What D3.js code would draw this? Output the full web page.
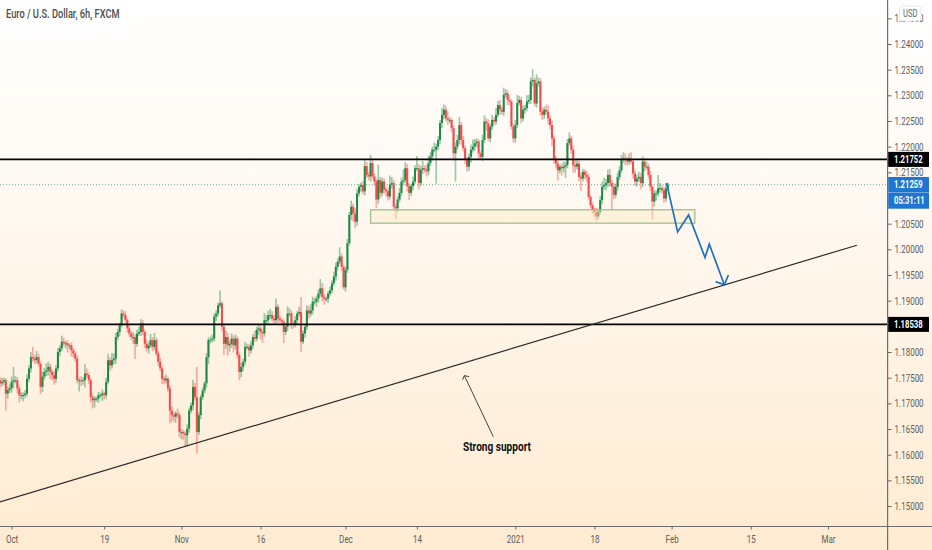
<!DOCTYPE html>
<html><head><meta charset="utf-8">
<script src="https://cdnjs.cloudflare.com/ajax/libs/d3/7.8.5/d3.min.js"></script>
<style>html,body{margin:0;padding:0;background:#fff;overflow:hidden}svg{display:block}</style>
</head><body><svg id="c" width="932" height="550"></svg>
<script>
const firstOpen = 1.1745;
const closes = [
1.1739,1.1742,1.1745,1.1719,1.1726,1.1729,1.1742,1.1745,1.1745,1.1729,
1.1716,1.1716,1.1716,1.1719,1.1748,1.1768,1.1790,1.1787,1.1784,1.1790,
1.1777,1.1732,1.1752,1.1761,1.1764,1.1771,1.1761,1.1755,1.1748,1.1768,
1.1800,1.1807,1.1820,1.1817,1.1817,1.1813,1.1813,1.1803,1.1797,1.1787,
1.1745,1.1745,1.1744,1.1745,1.1758,1.1755,1.1745,1.1712,1.1706,1.1709,
1.1709,1.1716,1.1716,1.1719,1.1716,1.1742,1.1784,1.1774,1.1784,1.1787,
1.1829,1.1839,1.1852,1.1875,1.1872,1.1862,1.1846,1.1836,1.1829,1.1829,
1.1816,1.1836,1.1839,1.1856,1.1839,1.1816,1.1807,1.1813,1.1823,1.1810,
1.1823,1.1797,1.1781,1.1768,1.1748,1.1745,1.1748,1.1729,1.1686,1.1677,
1.1674,1.1680,1.1677,1.1644,1.1644,1.1641,1.1638,1.1651,1.1686,1.1696,
1.1732,1.1712,1.1644,1.1677,1.1712,1.1725,1.1739,1.1790,1.1823,1.1824,
1.1826,1.1869,1.1875,1.1891,1.1895,1.1849,1.1816,1.1829,1.1813,1.1816,
1.1826,1.1813,1.1826,1.1794,1.1761,1.1771,1.1781,1.1810,1.1810,1.1803,
1.1813,1.1829,1.1826,1.1843,1.1846,1.1839,1.1836,1.1862,1.1862,1.1872,
1.1872,1.1865,1.1862,1.1888,1.1865,1.1862,1.1859,1.1839,1.1849,1.1875,
1.1875,1.1855,1.1854,1.1862,1.1875,1.1878,1.1820,1.1836,1.1849,1.1881,
1.1875,1.1881,1.1898,1.1898,1.1904,1.1914,1.1924,1.1907,1.1904,1.1904,
1.1914,1.1920,1.1934,1.1947,1.1966,1.1976,1.1986,1.1966,1.1926,1.1960,
1.2012,1.2067,1.2083,1.2070,1.2054,1.2109,1.2122,1.2125,1.2113,1.2162,
1.2145,1.2142,1.2168,1.2142,1.2132,1.2097,1.2135,1.2110,1.2132,1.2116,
1.2113,1.2103,1.2126,1.2129,1.2083,1.2080,1.2097,1.2110,1.2132,1.2135,
1.2158,1.2123,1.2110,1.2123,1.2132,1.2158,1.2158,1.2129,1.2155,1.2158,
1.2155,1.2152,1.2168,1.2181,1.2194,1.2194,1.2200,1.2213,1.2246,1.2262,
1.2272,1.2255,1.2252,1.2252,1.2236,1.2187,1.2200,1.2213,1.2242,1.2213,
1.2197,1.2174,1.2161,1.2180,1.2194,1.2200,1.2207,1.2210,1.2187,1.2180,
1.2213,1.2249,1.2245,1.2216,1.2239,1.2252,1.2249,1.2262,1.2281,1.2272,
1.2268,1.2301,1.2304,1.2291,1.2288,1.2239,1.2216,1.2242,1.2285,1.2291,
1.2255,1.2272,1.2275,1.2288,1.2291,1.2327,1.2330,1.2284,1.2323,1.2327,
1.2268,1.2262,1.2272,1.2268,1.2255,1.2242,1.2216,1.2177,1.2167,1.2154,
1.2161,1.2158,1.2161,1.2164,1.2207,1.2216,1.2194,1.2164,1.2161,1.2167,
1.2141,1.2138,1.2151,1.2145,1.2141,1.2102,1.2086,1.2077,1.2073,1.2064,
1.2073,1.2096,1.2122,1.2125,1.2129,1.2145,1.2129,1.2122,1.2106,1.2122,
1.2141,1.2154,1.2174,1.2177,1.2174,1.2171,1.2177,1.2171,1.2148,1.2132,
1.2138,1.2141,1.2129,1.2171,1.2161,1.2161,1.2145,1.2122,1.2093,1.2109,
1.2109,1.2119,1.2119,1.2115,1.2099,1.2119,1.2126];
const wickUpPips = [
6,8,5,4,6,8,10,26,8,6, 4,6,5,7,8,6,10,20,8,12, 6,5,10,8,14,10,6,5,8,6, 8,6,12,8,5,6,4,6,5,4,
6,5,8,6,18,10,5,4,6,5, 4,6,5,8,4,8,12,6,14,10, 8,6,5,8,6,8,4,6,5,10, 6,8,10,8,6,5,8,6,12,6,
14,5,6,8,4,5,8,4,6,8, 6,4,10,5,6,4,5,8,6,6, 14,8,59,6,5,6,4,8,5,6, 8,6,6,5,25,4,6,12,8,6,
10,6,8,4,5,8,6,10,6,5, 8,6,12,6,8,6,5,14,10,8, 12,8,6,16,5,6,4,5,6,14, 10,6,6,8,5,10,29,6,6,10,
8,12,10,8,6,8,18,10,6,4, 5,8,6,10,8,6,18,6,4,6, 8,6,12,6,10,8,6,5,8,12, 8,6,16,8,6,5,30,6,8,6,
5,6,18,12,6,5,6,10,8,20, 12,8,6,5,10,6,24,8,8,14, 6,10,14,8,6,14,6,8,6,14, 10,8,14,6,4,6,8,10,16,6,
8,5,6,6,10,14,8,6,5,4, 10,12,6,8,6,10,6,14,8,10, 6,14,8,6,10,4,6,10,16,8, 6,8,6,12,10,8,21,4,18,8,
6,8,6,10,12,6,8,6,5,8, 4,6,10,6,8,12,6,8,10,8, 6,8,6,5,8,6,4,6,4,8, 6,8,10,14,8,10,12,6,8,6,
8,8,10,12,10,6,10,12,6,6, 8,10,8,10,6,10,6,8,4,6, 6,26,10,6,6,10,4];
const wickDownPips = [
8,6,6,33,10,6,8,12,6,10, 14,8,12,6,5,6,8,6,8,6, 5,14,10,6,8,10,14,10,12,8, 6,8,5,6,10,14,8,12,8,6,
6,22,10,8,14,6,8,10,16,14, 6,8,5,12,8,6,5,10,6,8, 10,6,8,4,6,5,8,6,6,14, 29,6,5,8,6,8,6,10,5,8,
6,5,8,6,10,8,6,6,25,14, 8,12,6,10,14,12,22,20,8,6, 10,6,42,6,8,5,6,8,14,6, 5,6,8,6,5,8,22,10,20,12,
8,14,8,6,16,10,8,6,5,12, 6,8,6,5,10,14,18,6,8,6, 8,6,10,6,8,5,8,22,6,8, 6,10,8,6,8,6,20,5,8,6,
10,6,8,6,10,8,6,8,12,6, 8,6,6,5,8,6,5,8,4,8, 6,5,10,16,13,8,6,10,6,8, 6,8,10,6,8,17,8,10,6,8,
10,8,6,8,6,21,8,5,6,8, 6,10,14,6,8,5,6,12,6,8, 6,10,8,6,8,5,66,6,8,10, 8,6,10,6,8,14,55,6,8,10,
6,8,10,8,12,6,8,8,10,6, 8,6,14,5,8,6,8,6,5,10, 6,8,6,10,8,6,8,8,6,5, 10,6,8,6,5,8,10,6,8,6,
8,10,8,6,12,8,14,10,8,20, 6,14,8,22,6,5,8,14,12,6, 8,24,6,8,10,5,6,8,10,9, 6,5,8,6,10,8,6,45,8,6,
8,6,5,6,10,8,6,5,10,8, 10,6,12,8,10,6,8,8,35,10, 14,6,8,6,8,6,5];
const priceTicks = [1.245,1.24,1.235,1.23,1.225,1.22,1.215,1.205,1.2,1.195,1.19,1.18,1.175,1.17,1.165,1.16,1.155,1.15];
const timeTickBars = [6,54,94,135,179,216,267,308,348,389,429];
const timeTickLabels = ["Oct","19","Nov","16","Dec","14","2021","18","Feb","15","Mar"];
const levels = [1.21752,1.18538];
const lastPrice = 1.21259;
const countdown = "05:31:11";
const zoneBars = [192,360];
const zonePrices = [1.2077,1.2051];
const trendBars = [0,444];
const trendPrices = [1.1508,1.2008];
const forecastBars = [345.4,351.1,356.8,365.3,367.5,375.3];
const forecastPrices = [1.2129,1.2034,1.2067,1.1984,1.2010,1.1931];
const forecastHeadBars = [370.8,375.3,377.4];
const forecastHeadPrices = [1.1937,1.1931,1.1950];
const noteBars = [255.6,240.6];
const notePrices = [1.1635,1.1754];
const noteHeadBars = [239.7,240.6,243];
const noteHeadPrices = [1.1746,1.1754,1.1752];

const W=932,H=550,axisX=887.6,axisY=526.5;
const x=d3.scaleLinear().domain([0,460]).range([0,887.8]);
const y=d3.scaleLinear().domain([1.15,1.24]).range([506,44]);
const svg=d3.select("#c");
const grad=svg.append("defs").append("linearGradient").attr("id","bg").attr("x1",0).attr("x2",0).attr("y1",0).attr("y2",1);
grad.append("stop").attr("offset","0").attr("stop-color","#ffffff");
grad.append("stop").attr("offset","0.45").attr("stop-color","#fff7ee");
grad.append("stop").attr("offset","1").attr("stop-color","#ffebd1");
svg.append("rect").attr("width",W).attr("height",H).attr("fill","url(#bg)");

const FONT="'Roboto',sans-serif";
// The reference's text is horizontally condensed: keep real text, narrowed to the measured width.
const squeeze=(sel,k)=>sel.each(function(){const w=this.getComputedTextLength();
  d3.select(this).attr("textLength",(w*k).toFixed(1)).attr("lengthAdjust","spacingAndGlyphs");});
const bars=closes.map((c,i)=>{const o=i?closes[i-1]:firstOpen;
  return {i,o,c,h:Math.max(o,c)+wickUpPips[i]/1e4,l:Math.min(o,c)-wickDownPips[i]/1e4};});
const GREEN="#188a42",RED="#f4484a";
const plot=svg.append("g");
plot.append("line").attr("x1",0).attr("x2",axisX).attr("y1",y(lastPrice)).attr("y2",y(lastPrice))
 .attr("stroke","#4f9e6c").attr("stroke-width",1).attr("stroke-dasharray","1 2").attr("opacity",.8);
plot.append("g").selectAll("line").data(bars).join("line")
 .attr("x1",d=>x(d.i)).attr("x2",d=>x(d.i)).attr("y1",d=>y(d.h)).attr("y2",d=>y(d.l))
 .attr("stroke",d=>d.c>=d.o?GREEN:RED).attr("stroke-width",1.7).attr("opacity",.42);
plot.append("g").selectAll("rect").data(bars).join("rect")
 .attr("x",d=>x(d.i)-1).attr("width",2)
 .attr("y",d=>y(Math.max(d.o,d.c))).attr("height",d=>Math.max(1,Math.abs(y(d.o)-y(d.c))))
 .attr("fill",d=>d.c>=d.o?GREEN:RED);
plot.append("rect").attr("x",x(zoneBars[0])).attr("width",x(zoneBars[1])-x(zoneBars[0]))
 .attr("y",y(zonePrices[0])).attr("height",y(zonePrices[1])-y(zonePrices[0]))
 .attr("fill","#ffe9bf").attr("fill-opacity",.4).attr("stroke","#9dbf8e").attr("stroke-width",1.3);
plot.selectAll(".lv").data(levels).join("line").attr("class","lv").attr("x1",0).attr("x2",axisX)
 .attr("y1",d=>y(d)).attr("y2",d=>y(d)).attr("stroke","#000").attr("stroke-width",1.8);
const ln=d3.line().x(d=>x(d[0])).y(d=>y(d[1]));
const path=(bs,ps,col,w)=>plot.append("path").attr("d",ln(bs.map((b,i)=>[b,ps[i]]))).attr("fill","none")
 .attr("stroke",col).attr("stroke-width",w).attr("stroke-linejoin","miter");
path(trendBars,trendPrices,"#2b2b2b",1.2);
path(forecastBars,forecastPrices,"#1c71c4",1.7);
path(forecastHeadBars,forecastHeadPrices,"#1c71c4",1.7);
path(noteBars,notePrices,"#444",1);
path(noteHeadBars,noteHeadPrices,"#444",1);
svg.append("text").attr("x",497).attr("y",451).attr("text-anchor","middle")
 .attr("font-family",FONT).attr("font-weight",700).attr("font-size",12).attr("fill","#111")
 .text("Strong support").call(squeeze,.84);
svg.append("text").attr("x",6).attr("y",18).attr("font-family",FONT).attr("font-weight",500).attr("font-size",13)
 .attr("fill","#4d4d4d").text("Euro / U.S. Dollar, 6h, FXCM").call(squeeze,.71);

const gy=svg.append("g").attr("transform",`translate(${axisX},0)`)
 .call(d3.axisRight(y).tickValues(priceTicks).tickFormat(d3.format(".5f")).tickSize(4).tickPadding(3));
gy.select(".domain").remove();
const gx=svg.append("g").attr("transform",`translate(0,${axisY})`)
 .call(d3.axisBottom(x).tickValues(timeTickBars).tickFormat((d,i)=>timeTickLabels[i]).tickSize(3).tickPadding(6));
gx.select(".domain").remove();
svg.selectAll(".tick text").attr("font-family",FONT).attr("font-size",10.5).attr("fill","#5c5c5c").call(squeeze,.76);
svg.selectAll(".tick line").attr("stroke","#666");
svg.append("line").attr("x1",axisX).attr("x2",axisX).attr("y1",0).attr("y2",H).attr("stroke","#6e6e6e").attr("stroke-width",1.2);
svg.append("line").attr("x1",0).attr("x2",W).attr("y1",axisY).attr("y2",axisY).attr("stroke","#6e6e6e").attr("stroke-width",1.2);

const tag=(cy,h,fill,txt)=>{svg.append("rect").attr("x",axisX+.6).attr("y",cy-h/2).attr("width",929-axisX-.6).attr("height",h).attr("fill",fill);
 svg.append("text").attr("x",894).attr("y",cy+3.7).attr("font-family",FONT).attr("font-size",10.5).attr("font-weight",700).attr("fill","#fff").text(txt).call(squeeze,.73);};
levels.forEach(v=>tag(y(v),15,"#000",d3.format(".5f")(v)));
tag(y(lastPrice),15.5,"#1e76d2",d3.format(".5f")(lastPrice));
tag(y(lastPrice)+16,16,"#1e76d2",countdown);
svg.append("rect").attr("x",899.5).attr("y",6).attr("width",21.5).attr("height",15).attr("rx",3)
 .attr("fill","#fff").attr("stroke","#e6e6e6");
svg.append("text").attr("x",910.2).attr("y",17).attr("text-anchor","middle").attr("font-family",FONT)
 .attr("font-size",10.5).attr("fill","#666").text("USD").call(squeeze,.72);
</script></body></html>
